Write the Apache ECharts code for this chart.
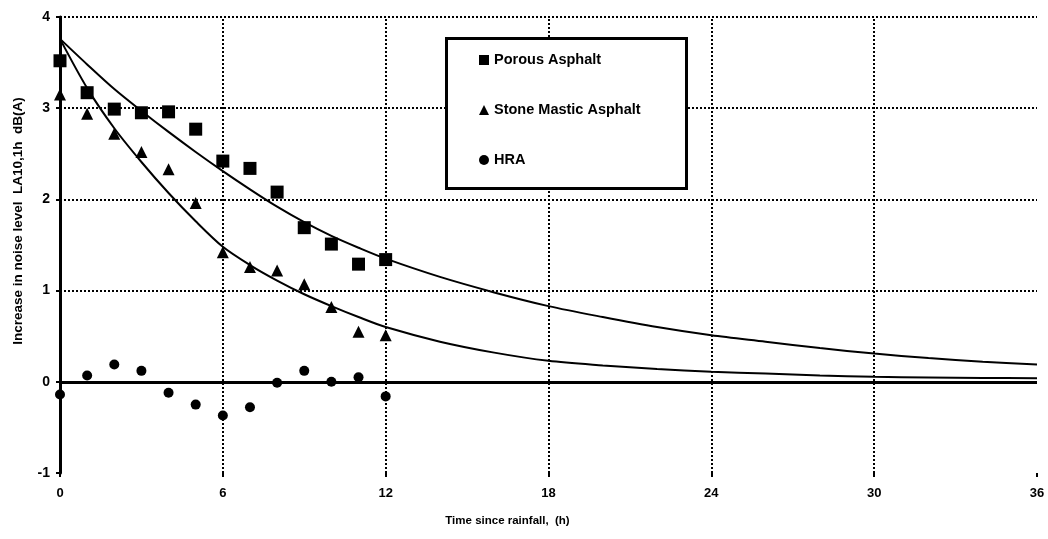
<!DOCTYPE html>
<html>
<head>
<meta charset="utf-8">
<script src="https://cdn.jsdelivr.net/npm/echarts@6/dist/echarts.min.js"></script>
<style>html,body{margin:0;padding:0;background:#fff}#c{width:1048px;height:539px}</style>
</head>
<body>
<div id="c"></div>
<script>
const hours = [0,1,2,3,4,5,6,7,8,9,10,11,12];
const porous = [3.52,3.17,2.99,2.95,2.96,2.77,2.42,2.34,2.08,1.69,1.51,1.29,1.34];
const sma = [3.15,2.94,2.72,2.52,2.33,1.96,1.42,1.26,1.22,1.07,0.82,0.55,0.51];
const hra = [-0.14,0.07,0.19,0.12,-0.12,-0.25,-0.37,-0.28,-0.01,0.12,0.00,0.05,-0.16];
const fitHours = [0,1,2,3,4,5,6,7,8,9,10,11,12,14,16,18,20,22,24,26,28,30,32,34,36];
const fitPorous = [3.76,3.48,3.21,2.97,2.74,2.52,2.31,2.11,1.92,1.75,1.60,1.47,1.35,1.15,0.98,0.83,0.71,0.60,0.51,0.44,0.37,0.31,0.26,0.22,0.19];
const fitSma = [3.76,3.22,2.78,2.41,2.07,1.76,1.48,1.28,1.11,0.96,0.83,0.71,0.60,0.44,0.32,0.23,0.18,0.14,0.11,0.09,0.07,0.055,0.048,0.043,0.04];
const gridX = [6,12,18,24,30];
const gridY = [1,2,3,4];
const names = ['Porous Asphalt','Stone Mastic Asphalt','HRA'];

const pair = (xs, ys) => xs.map((x,i)=>[x, ys[i]]);
const font = 'Liberation Sans, Arial, sans-serif';
const gridStyle = {type:[2,2], width:2, color:'#000'};
const marks = [];
gridX.forEach(v=>marks.push({xAxis:v, lineStyle:gridStyle}));
gridY.forEach(v=>marks.push({yAxis:v, lineStyle:gridStyle}));
marks.push({yAxis:0, lineStyle:{type:'solid', width:3, color:'#000'}});

const chart = echarts.init(document.getElementById('c'), null, {renderer:'canvas'});
chart.setOption({
  animation:false,
  backgroundColor:'#fff',
  grid:{left:60, right:11, top:17, bottom:66},
  xAxis:{
    type:'value', min:0, max:36, interval:6,
    axisLine:{show:false, onZero:false},
    axisTick:{show:true, length:4, lineStyle:{color:'#000', width:2}},
    splitLine:{show:false},
    axisLabel:{color:'#000', fontFamily:font, fontWeight:'bold', fontSize:13, margin:14},
    name:'Time since rainfall,  (h)', nameLocation:'middle', nameGap:42,
    nameTextStyle:{color:'#000', fontFamily:font, fontWeight:'bold', fontSize:11.5, padding:[0,82,0,0]}
  },
  yAxis:{
    type:'value', min:-1, max:4, interval:1,
    axisLine:{show:true, onZero:false, lineStyle:{color:'#000', width:3}},
    axisTick:{show:true, length:4, lineStyle:{color:'#000', width:2}},
    splitLine:{show:false},
    axisLabel:{color:'#000', fontFamily:font, fontWeight:'bold', fontSize:14, margin:10},
    name:'Increase in noise level  LA10,1h  dB(A)', nameLocation:'middle', nameGap:35, nameRotate:90,
    nameTextStyle:{color:'#000', fontFamily:font, fontWeight:'bold', fontSize:13.5, padding:[0,0,0,48]}
  },
  graphic:[{type:'rect', left:445, top:37, z:3, shape:{width:240, height:150},
    style:{fill:'#fff', stroke:'#000', lineWidth:3}}],
  legend:{
    orient:'vertical', left:479, top:52, padding:0, itemGap:34,
    itemWidth:10, itemHeight:10, itemStyle:{opacity:1}, z:10,
    textStyle:{color:'#000', fontFamily:font, fontWeight:'bold', fontSize:14.5, lineHeight:16},
    data:[{name:names[0], icon:'rect'},{name:names[1], icon:'triangle'},{name:names[2], icon:'circle'}]
  },
  series:[
    {type:'line', name:'fitP', data:pair(fitHours, fitPorous), smooth:0.3, showSymbol:false, symbol:'none',
     lineStyle:{color:'#000', width:2}, silent:true, z:2,
     markLine:{silent:true, symbol:'none', label:{show:false}, data:marks, z:1}},
    {type:'line', name:'fitS', data:pair(fitHours, fitSma), smooth:0.3, showSymbol:false, symbol:'none',
     lineStyle:{color:'#000', width:2}, silent:true, z:2},
    {type:'scatter', name:names[0], data:pair(hours, porous), symbol:'rect', symbolSize:13, itemStyle:{color:'#000', opacity:1}, z:3},
    {type:'scatter', name:names[1], data:pair(hours, sma), symbol:'triangle', symbolSize:12, itemStyle:{color:'#000', opacity:1}, z:3},
    {type:'scatter', name:names[2], data:pair(hours, hra), symbol:'circle', symbolSize:10, itemStyle:{color:'#000', opacity:1}, z:3}
  ]
});
</script>
</body>
</html>
